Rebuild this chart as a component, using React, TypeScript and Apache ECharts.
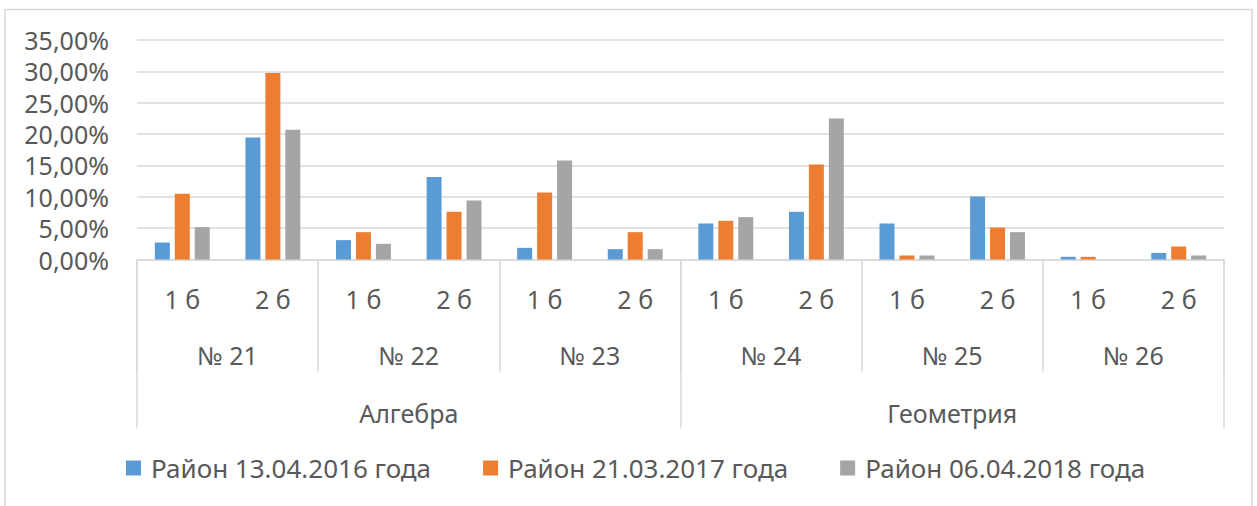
import React, { useEffect, useRef } from "react";
import * as echarts from "echarts";

const subCategories = ["1 б", "2 б", "1 б", "2 б", "1 б", "2 б", "1 б", "2 б", "1 б", "2 б", "1 б", "2 б"];
const taskCategories = ["№ 21", "№ 22", "№ 23", "№ 24", "№ 25", "№ 26"];
const subjectCategories = ["Алгебра", "Геометрия"];

const seriesNames = ["Район 13.04.2016 года", "Район 21.03.2017 года", "Район 06.04.2018 года"];
const values2016 = [2.71, 19.47, 3.09, 13.14, 1.86, 1.65, 5.74, 7.61, 5.74, 10.05, 0.43, 1.06];
const values2017 = [10.48, 29.73, 4.36, 7.61, 10.69, 4.36, 6.17, 15.16, 0.64, 5.1, 0.43, 2.07];
const values2018 = [5.16, 20.69, 2.5, 9.41, 15.8, 1.65, 6.76, 22.5, 0.64, 4.36, 0, 0.64];
const seriesColors = ["#5B9BD5", "#ED7D31", "#A5A5A5"];

const FONT = "Noto Sans";
const TEXT = "#595959";
const LINE = "#D9D9D9";

export default function App() {
  const ref = useRef<HTMLDivElement>(null);
  useEffect(() => {
    document.body.style.margin = "0";
    const chart = echarts.init(ref.current!, null, { renderer: "svg" });
    const seriesData = [values2016, values2017, values2018];
    chart.setOption({
      animation: false,
      backgroundColor: "#ffffff",
      textStyle: { fontFamily: FONT },
      graphic: [
        {
          type: "rect",
          shape: { x: 5, y: 9.5, width: 1247, height: 520 },
          style: { fill: "none", stroke: LINE, lineWidth: 1.5 },
          silent: true,
        },
      ],
      legend: {
        bottom: 20,
        left: 121,
        icon: "rect",
        itemWidth: 15,
        itemHeight: 15,
        itemGap: 52,
        textStyle: { fontFamily: FONT, fontSize: 26, color: TEXT, padding: [0, 0, 0, 5] },
        data: seriesNames,
      },
      grid: { left: 137, right: 33, top: 40, bottom: 246.5, containLabel: false },
      xAxis: [
        {
          type: "category",
          data: subCategories,
          position: "bottom",
          axisLine: { show: true, lineStyle: { color: LINE, width: 1.5 } },
          axisTick: { show: false },
          axisLabel: { fontFamily: FONT, fontSize: 25, color: TEXT, margin: 27, interval: 0 },
        },
        {
          type: "category",
          data: taskCategories,
          position: "bottom",
          offset: 0,
          axisLine: { show: false },
          axisTick: { show: true, length: 112, lineStyle: { color: LINE, width: 1.5 } },
          axisLabel: { fontFamily: FONT, fontSize: 25, color: TEXT, margin: 83, interval: 0 },
        },
        {
          type: "category",
          data: subjectCategories,
          position: "bottom",
          offset: 0,
          axisLine: { show: false },
          axisTick: { show: true, length: 169, lineStyle: { color: LINE, width: 1.5 } },
          axisLabel: { fontFamily: FONT, fontSize: 25, color: TEXT, margin: 141, interval: 0 },
        },
      ],
      yAxis: {
        type: "value",
        min: 0,
        max: 35,
        interval: 5,
        axisLine: { show: false },
        axisTick: { show: false },
        splitLine: { lineStyle: { color: LINE, width: 1.5 } },
        axisLabel: {
          fontFamily: FONT,
          fontSize: 25,
          color: TEXT,
          margin: 28,
          formatter: (v: number) => v.toFixed(2).replace(".", ",") + "%",
        },
      },
      series: seriesNames.map((name, i) => ({
        name,
        type: "bar",
        xAxisIndex: 0,
        data: seriesData[i],
        barWidth: 15,
        barGap: "33%",
        itemStyle: { color: seriesColors[i] },
      })),
    });
    return () => chart.dispose();
  }, []);
  return <div ref={ref} style={{ width: 1257, height: 506 }} />;
}
